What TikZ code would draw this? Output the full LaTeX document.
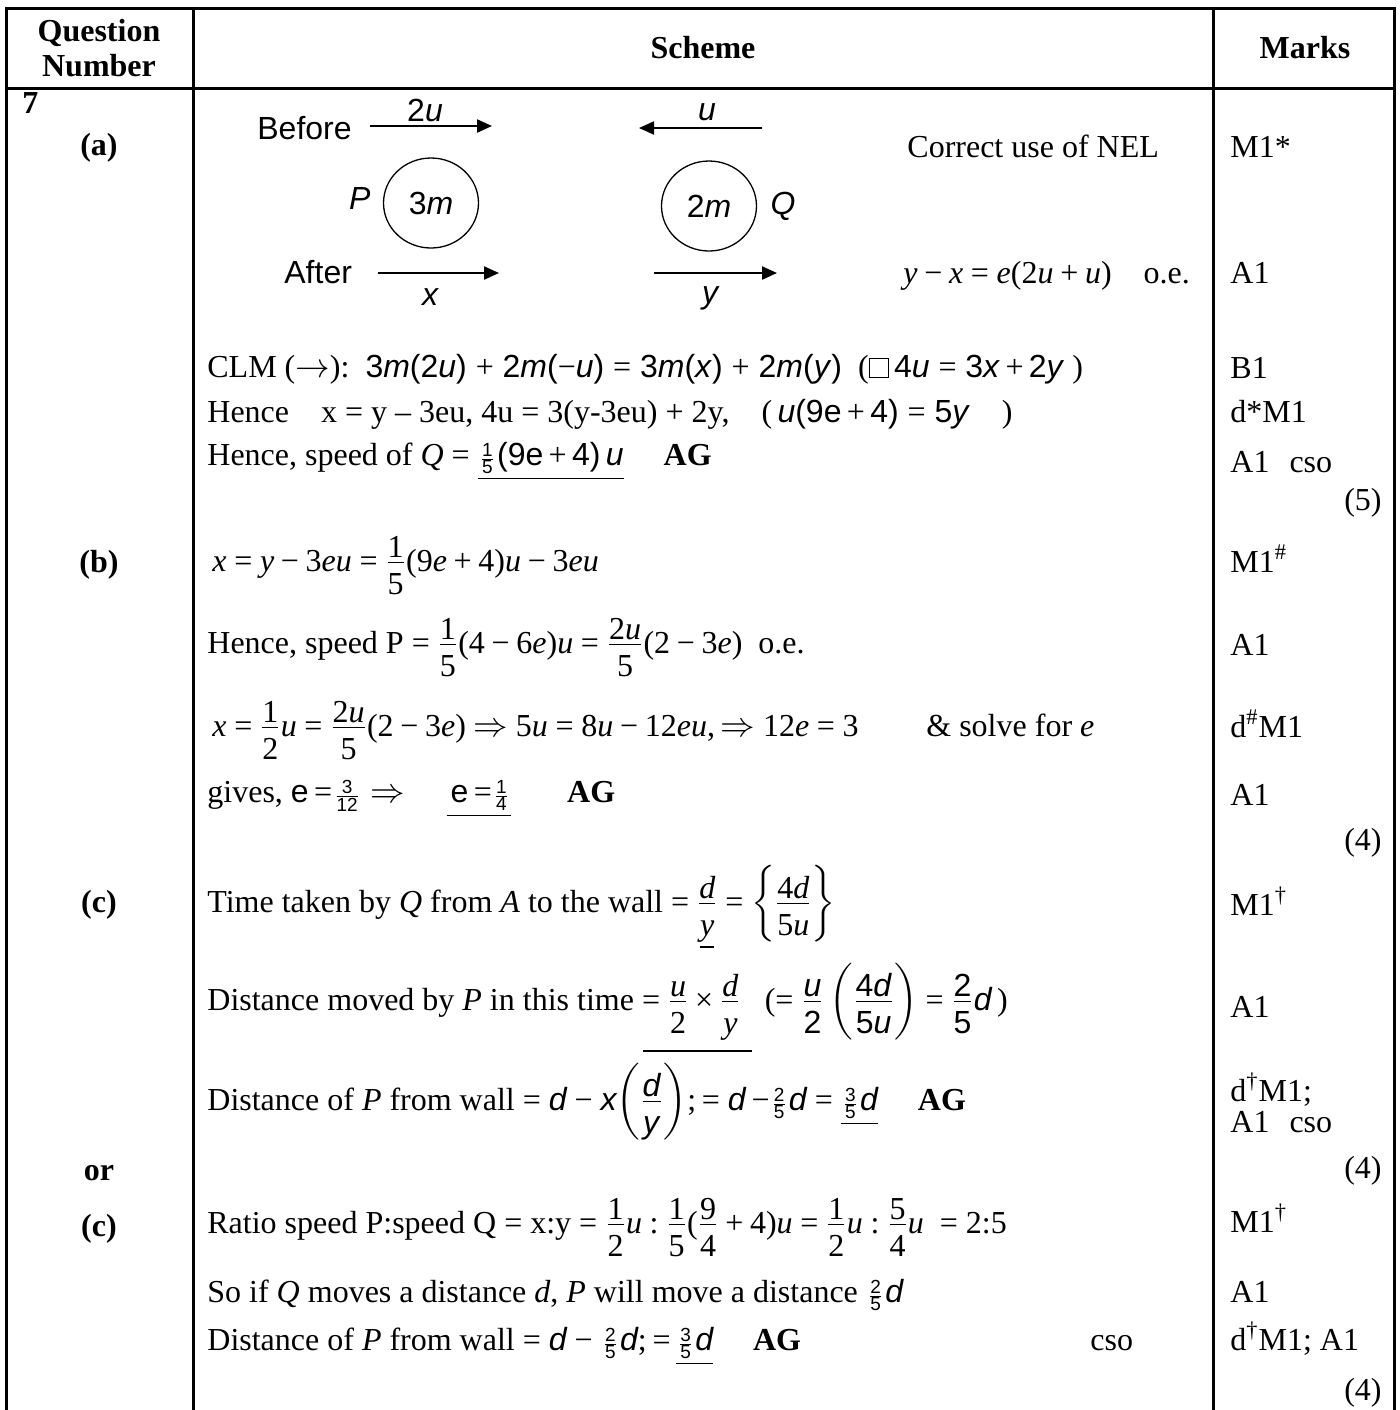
\documentclass[tikz,border=0pt]{standalone}
\usepackage{amsmath,amssymb}
\usepackage{fontspec}
\setmainfont{Liberation Serif}[NFSSFamily=libser]
\newfontfamily\arial{Liberation Sans}
\DeclareSymbolFont{letters}{TU}{libser}{m}{it}
\DeclareSymbolFont{tmsup}{TU}{libser}{m}{n}
\AtBeginDocument{%
	\Umathcode`\+=2 \symtmsup `\+
	\Umathcode`\==3 \symtmsup `\=
	\Umathcode`\-=2 \symtmsup "2212
	\Umathcode`\(=4 \symtmsup `\(
	\Umathcode`\)=5 \symtmsup `\)
	\Umathcode`\:=3 \symtmsup `\:
	\Umathcode`\,=6 \symtmsup `\,
	\Umathcode`\.=0 \symtmsup `\.
	\Umathcode`\/=0 \symtmsup `\/
	\Umathcode`0=7 \symtmsup `0 \Umathcode`1=7 \symtmsup `1
	\Umathcode`2=7 \symtmsup `2 \Umathcode`3=7 \symtmsup `3
	\Umathcode`4=7 \symtmsup `4 \Umathcode`5=7 \symtmsup `5
	\Umathcode`6=7 \symtmsup `6 \Umathcode`7=7 \symtmsup `7
	\Umathcode`8=7 \symtmsup `8 \Umathcode`9=7 \symtmsup `9
	\Umathchardef\times=2 \symtmsup "D7 }
\usetikzlibrary{positioning,arrows.meta,shapes.geometric}
\newcommand\sv[1]{{\arial\itshape #1}}
\newcommand\sn[1]{{\arial #1}}
\newcommand\smallsans{\arial\fontsize{9.5}{10}\selectfont}
\newcommand\sfr[2]{\kern1pt$\genfrac{}{}{}{2}{\hbox{\smallsans #1}}{\hbox{\smallsans #2}}$\kern1pt}
\newcommand\fr[2]{\genfrac{}{}{}{1}{\displaystyle #1}{\displaystyle\rule{0pt}{0.95em}#2}}
\newcommand\SF[2]{\genfrac{}{}{}{1}{\displaystyle\text{\arial #1}}{\displaystyle\text{\arial\rule{0pt}{0.95em}#2}}}
\newcommand\sqbox{{\setlength\fboxsep{0pt}\setlength\fboxrule{0.5pt}\fbox{\rule{0pt}{9pt}\hspace{9pt}}}}
\begin{document}
\fontsize{16}{19.2}\selectfont
\thickmuskip=4mu plus 2mu \medmuskip=3.5mu plus 1mu
\begin{tikzpicture}[x=0.5pt,y=-0.5pt,
	rule/.style={line width=1.5pt},
	ln/.style={anchor=base west,inner sep=0pt},
	vel/.style={line width=1.1pt,-{Triangle[length=7.5pt,width=6.5pt]}},
	ball/.style={draw,ellipse,line width=0.65pt,minimum width=47.5pt,minimum height=45pt,inner sep=0pt}]
	\useasboundingbox (0,0) rectangle (1400,1410);
	\def\sx{207}
	\def\mx{1230}
	% table
	\path (6,8) coordinate (tl) (1394,8) coordinate (tr) (6,1410) coordinate (bl) (1394,1410) coordinate (br)
	(193,8) coordinate (ca) (193,1410) coordinate (ca') (1213,8) coordinate (cb) (1213,1410) coordinate (cb')
	(6,88) coordinate (hl) (1394,88) coordinate (hr);
	\draw[rule] (bl)--(tl)--(tr)--(br) (ca)--(ca') (cb)--(cb') (hl)--(hr);
	\node[font=\bfseries,align=center] (qn) at (99,48) {Question\\[-1.7pt]Number};
	\node[font=\bfseries] (sch) at (703,48) {Scheme};
	\node[font=\bfseries] (mks) at (1305,48) {Marks};
	\node[ln,font=\bfseries] (q7) at (22,113) {7};
	\foreach \n/\y/\t in {la/155/(a),lb/572/(b),lc/912/(c),lor/1180/or,ld/1236/(c)}
	\node[font=\bfseries,anchor=base,inner sep=0pt] (\n) at (99,\y) {\t};
	% before / after
	\node[ln,font=\arial] (bef) at (257,139) {Before};
	\node[ln,font=\arial] (aft) at (284,283) {After};
	\path (370,126) coordinate (b1) (492,126) coordinate (b1')
	(762,128) coordinate (b2) (639,128) coordinate (b2')
	(378,273) coordinate (a1) (499,273) coordinate (a1')
	(654,273) coordinate (a2) (777,273) coordinate (a2');
	\draw[vel] (b1)--(b1');
	\draw[vel] (b2)--(b2');
	\draw[vel] (a1)--(a1');
	\draw[vel] (a2)--(a2');
	\node[anchor=base,inner sep=0pt] (vb1) at (425,121) {\sn{2}\sv{u}};
	\node[anchor=base,inner sep=0pt] (vb2) at (707,120) {\sv{u}};
	\node[anchor=base,inner sep=0pt] (va1) at (430,305) {\sv{x}};
	\node[anchor=base,inner sep=0pt] (va2) at (710,303) {\sv{y}};
	\node[ball] (P) at (431,203) {\sn{3}\sv{m}};
	\node[ball] (Q) at (709,206) {\sn{2}\sv{m}};
	\node[left=6pt of P,inner sep=0pt,yshift=2.5pt] (Pl) {\sv{P}};
	\node[right=6.5pt of Q,inner sep=0pt] (Ql) {\sv{Q}};
	\node[ln] (nel) at (907,157) {Correct use of NEL};
	\node[ln] (nelq) at (903,283) {$y-x=e(2u+u)$\quad o.e.};
	% part (a)
	\node[ln] (clm) at (\sx,377) {CLM ($\rightarrow$):\ \ \sn{3\textit{m}(2\textit{u}) $+$ 2\textit{m}($-$\textit{u}) $=$ 3\textit{m}(\textit{x}) $+$ 2\textit{m}(\textit{y})}\ \ (\sqbox\,\sn{4\textit{u} $=$ 3\textit{x}\,$+$\,2\textit{y}} )};
	\node[ln] (hx) at (\sx,422) {Hence\quad x = y -- 3eu, 4u = 3(y-3eu) + 2y,\quad (\,\sn{\textit{u}(9e\,$+$\,4) $=$ 5\textit{y}}\quad)};
	\node[ln] (hq) at (\sx,465) {Hence, speed of \textit{Q} $=$ $\underline{\hbox{\sfr15\sn{(9e\,$+$\,4)}\,\sv{u}}}$\hspace{20pt}\textbf{AG}};
	% part (b)
	\node[ln] (bx) at (212,571) {$x=y-3eu=\fr{1}{5}(9e+4)u-3eu$};
	\node[ln] (bp) at (\sx,653) {Hence, speed P $=\fr{1}{5}(4-6e)u=\fr{2u}{5}(2-3e)$\ \ o.e.};
	\node[ln] (be) at (212,736) {$x=\fr{1}{2}u=\fr{2u}{5}(2-3e)\Rightarrow 5u=8u-12eu,\Rightarrow 12e=3$};
	\node[ln] (bs) at (926,736) {\& solve for \textit{e}};
	\node[ln] (bg) at (\sx,802) {gives,\ \sn{e}\,$=$\sfr{3}{12}\hspace{4pt}$\Rightarrow$\hspace{21pt}$\underline{\hbox{\kern2pt\sn{e}\,$=$\sfr{1}{4}}}$\hspace{28pt}\textbf{AG}};
	% part (c)
	\node[ln] (ct) at (\sx,912) {Time taken by \textit{Q} from \textit{A} to the wall $=\fr{d}{\underline{y}}=\left\{\fr{4d}{5u}\right\}$};
	\node[ln] (cm) at (\sx,1010) {Distance moved by \textit{P} in this time $=\fr{u}{2}\times\fr{d}{y}$\ \ \ ($=\SF{\textit{u}}{2}\left(\SF{4\textit{d}}{5\textit{u}}\right)=\SF{2}{5}\text{\arial\itshape d}$\,)};
	\path (643,1051) coordinate (ul) (752,1051) coordinate (ul');
	\draw[line width=1pt] (ul)--(ul');
	\node[ln] (cw) at (\sx,1110) {Distance of \textit{P} from wall $=$ \sv{d} $-$ \sv{x}$\left(\SF{\textit{d}}{\textit{y}}\right)$;$\,=$ \sv{d}$\,-$\sfr25\sv{d} $=$ $\underline{\hbox{\sfr35\sv{d}}}$\quad\ \textbf{AG}};
	% alternative (c)
	\node[ln] (dr) at (\sx,1233) {Ratio speed P:speed Q = x:y = $\fr{1}{2}u:\fr{1}{5}(\fr{9}{4}+4)u=\fr{1}{2}u:\fr{5}{4}u$\ \ = 2:5};
	\node[ln] (dq) at (\sx,1302) {So if \textit{Q} moves a distance \textit{d}, \textit{P} will move a distance \sfr25\sv{d}};
	\node[ln] (dw) at (\sx,1350) {Distance of \textit{P} from wall $=$ \sv{d} $-$ \sfr25\sv{d};$\,=$\,$\underline{\hbox{\sfr35\sv{d}}}$\quad\ \textbf{AG}};
	\node[ln] (dc) at (1090,1350) {cso};
	% marks
	\foreach \y/\t in {157/M1*,283/A1,378/B1,422/d*M1,472/A1\hspace{10pt}cso,572/M1\textsuperscript{\#},655/A1,737/d\textsuperscript{\#}M1,805/A1,915/M1\textsuperscript{\textdagger},1017/A1,1101/d\textsuperscript{\textdagger}M1;,1132/A1\hspace{10pt}cso,1232/M1\textsuperscript{\textdagger},1302/A1,1350/d\textsuperscript{\textdagger}M1; A1}
	\node[ln] (m\y) at (\mx,\y) {\t};
	\foreach \y/\t in {510/5,850/4,1178/4,1400/4}
	\node[anchor=base east,inner sep=0pt] (t\y) at (1382,\y) {(\t)};
\end{tikzpicture}
\end{document}
